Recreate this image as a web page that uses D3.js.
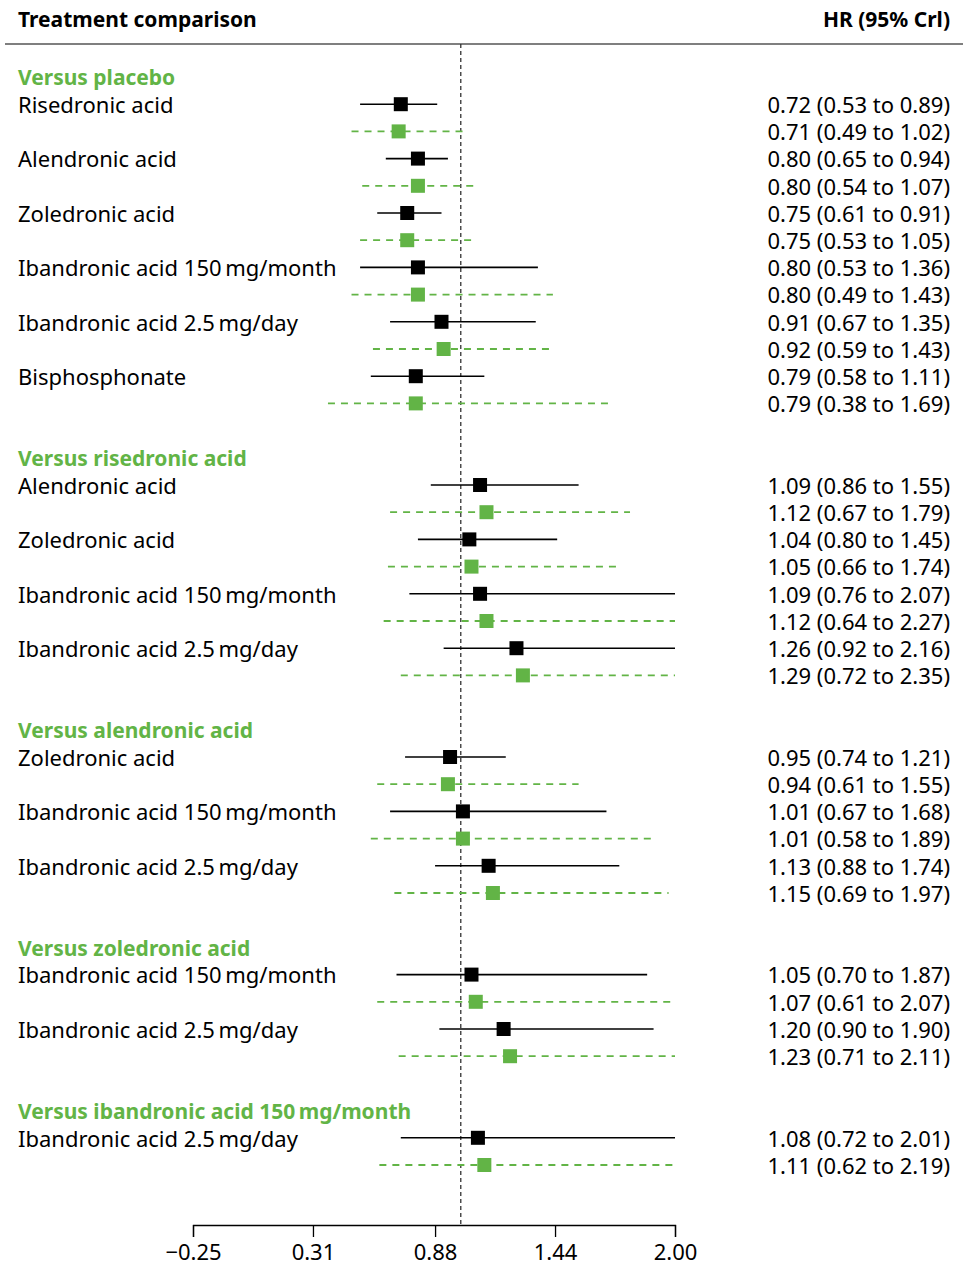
<!DOCTYPE html>
<html>
<head>
<meta charset="utf-8">
<script src="https://cdn.jsdelivr.net/npm/d3@7"></script>
<style>
  body { margin: 0; background: #fff; }
  svg { font-family: "Noto Sans", "Open Sans", sans-serif; }
</style>
</head>
<body>
<svg></svg>
<script>
const width = 963;
const height = 1268;

const green = "#62b446";

// group headings and the treatments listed under each one
const groupNames = [
    "Versus placebo",
    "Versus risedronic acid",
    "Versus alendronic acid",
    "Versus zoledronic acid",
    "Versus ibandronic acid 150\u2009mg/month"
];
const groupTreatments = [
    ["Risedronic acid", "Alendronic acid", "Zoledronic acid", "Ibandronic acid 150\u2009mg/month", "Ibandronic acid 2.5\u2009mg/day", "Bisphosphonate"],
    ["Alendronic acid", "Zoledronic acid", "Ibandronic acid 150\u2009mg/month", "Ibandronic acid 2.5\u2009mg/day"],
    ["Zoledronic acid", "Ibandronic acid 150\u2009mg/month", "Ibandronic acid 2.5\u2009mg/day"],
    ["Ibandronic acid 150\u2009mg/month", "Ibandronic acid 2.5\u2009mg/day"],
    ["Ibandronic acid 2.5\u2009mg/day"]
];

// solid black estimates
const hrSolid   = [0.72, 0.80, 0.75, 0.80, 0.91, 0.79, 1.09, 1.04, 1.09, 1.26, 0.95, 1.01, 1.13, 1.05, 1.20, 1.08];
const lowSolid  = [0.53, 0.65, 0.61, 0.53, 0.67, 0.58, 0.86, 0.80, 0.76, 0.92, 0.74, 0.67, 0.88, 0.70, 0.90, 0.72];
const highSolid = [0.89, 0.94, 0.91, 1.36, 1.35, 1.11, 1.55, 1.45, 2.07, 2.16, 1.21, 1.68, 1.74, 1.87, 1.90, 2.01];

// dashed green estimates
const hrDashed   = [0.71, 0.80, 0.75, 0.80, 0.92, 0.79, 1.12, 1.05, 1.12, 1.29, 0.94, 1.01, 1.15, 1.07, 1.23, 1.11];
const lowDashed  = [0.49, 0.54, 0.53, 0.49, 0.59, 0.38, 0.67, 0.66, 0.64, 0.72, 0.61, 0.58, 0.69, 0.61, 0.71, 0.62];
const highDashed = [1.02, 1.07, 1.05, 1.43, 1.43, 1.69, 1.79, 1.74, 2.27, 2.35, 1.55, 1.89, 1.97, 2.07, 2.11, 2.19];

const tickValues = [-0.25, 0.31, 0.88, 1.44, 2.00];
const refValue = 1;

// lay out rows: heading, then two rows per treatment, blank row between groups
const headings = [];
const rows = [];
let idx = 0, k = 0;
groupNames.forEach(function(name, g) {
    headings.push({ name: name, row: idx });
    idx++;
    groupTreatments[g].forEach(function(t) {
        rows.push({ label: t, row: idx, hr: hrSolid[k], lo: lowSolid[k], hi: highSolid[k], dashed: false });
        rows.push({ label: null, row: idx + 1, hr: hrDashed[k], lo: lowDashed[k], hi: highDashed[k], dashed: true });
        idx += 2;
        k++;
    });
    idx++;
});
const nRows = idx - 1;

const x = d3.scaleLinear().domain([-0.25, 2.00]).range([193, 675]);
const y = d3.scaleLinear().domain([0, nRows - 1]).range([77, 77 + (nRows - 1) * 27.2]);
const clamp = function(v) { return x(Math.max(-0.25, Math.min(2.00, v))); };
const fmt = d3.format(".2f");

const svg = d3.select("svg")
    .attr("width", width)
    .attr("height", height);

// header
svg.append("text")
    .attr("x", 18).attr("y", 20).attr("dy", "0.35em")
    .attr("font-size", 21).attr("font-weight", "bold")
    .text("Treatment comparison");
svg.append("text")
    .attr("x", 950).attr("y", 20).attr("dy", "0.35em")
    .attr("text-anchor", "end")
    .attr("font-size", 21).attr("font-weight", "bold")
    .text("HR (95% Crl)");
svg.append("line")
    .attr("x1", 5).attr("x2", width).attr("y1", 44).attr("y2", 44)
    .attr("stroke", "#000").attr("stroke-width", 1.2);

// reference line at HR = 1
svg.append("line")
    .attr("x1", x(refValue)).attr("x2", x(refValue))
    .attr("y1", 44).attr("y2", 1226)
    .attr("stroke", "#333").attr("stroke-width", 1.3)
    .attr("stroke-dasharray", "4,3");

// group headings
svg.selectAll("text.heading")
    .data(headings)
    .enter().append("text")
    .attr("class", "heading")
    .attr("x", 18)
    .attr("y", function(d) { return y(d.row) + 1; })
    .attr("dy", "0.35em")
    .attr("font-size", 21).attr("font-weight", "bold")
    .attr("fill", green)
    .text(function(d) { return d.name; });

// treatment labels
svg.selectAll("text.label")
    .data(rows.filter(function(d) { return d.label; }))
    .enter().append("text")
    .attr("class", "label")
    .attr("x", 18)
    .attr("y", function(d) { return y(d.row) + 1; })
    .attr("dy", "0.35em")
    .attr("font-size", 22)
    .text(function(d) { return d.label; });

// value text
svg.selectAll("text.value")
    .data(rows)
    .enter().append("text")
    .attr("class", "value")
    .attr("x", 950)
    .attr("y", function(d) { return y(d.row) + 1; })
    .attr("dy", "0.35em")
    .attr("text-anchor", "end")
    .attr("font-size", 22)
    .text(function(d) { return fmt(d.hr) + " (" + fmt(d.lo) + " to " + fmt(d.hi) + ")"; });

// interval lines
svg.selectAll("line.ci")
    .data(rows)
    .enter().append("line")
    .attr("class", "ci")
    .attr("x1", function(d) { return clamp(d.lo); })
    .attr("x2", function(d) { return clamp(d.hi); })
    .attr("y1", function(d) { return y(d.row); })
    .attr("y2", function(d) { return y(d.row); })
    .attr("stroke", function(d) { return d.dashed ? green : "#000"; })
    .attr("stroke-width", function(d) { return d.dashed ? 1.8 : 1.6; })
    .attr("stroke-dasharray", function(d) { return d.dashed ? "7,6" : null; });

// point estimates
const sq = 14;
svg.selectAll("rect.pt")
    .data(rows)
    .enter().append("rect")
    .attr("class", "pt")
    .attr("x", function(d) { return x(d.hr) - sq / 2; })
    .attr("y", function(d) { return y(d.row) - sq / 2; })
    .attr("width", sq).attr("height", sq)
    .attr("fill", function(d) { return d.dashed ? green : "#000"; });

// axis
const axis = svg.append("g")
    .attr("transform", "translate(0,1225)")
    .call(d3.axisBottom(x)
        .tickValues(tickValues)
        .tickFormat(fmt)
        .tickSize(12)
        .tickSizeOuter(12)
        .tickPadding(7));
axis.selectAll("path, line").attr("stroke", "#000").attr("stroke-width", 1.3);
axis.selectAll("text")
    .attr("font-size", 22)
    .attr("font-family", "\"Noto Sans\", sans-serif")
    .attr("fill", "#000");
</script>
</body>
</html>
